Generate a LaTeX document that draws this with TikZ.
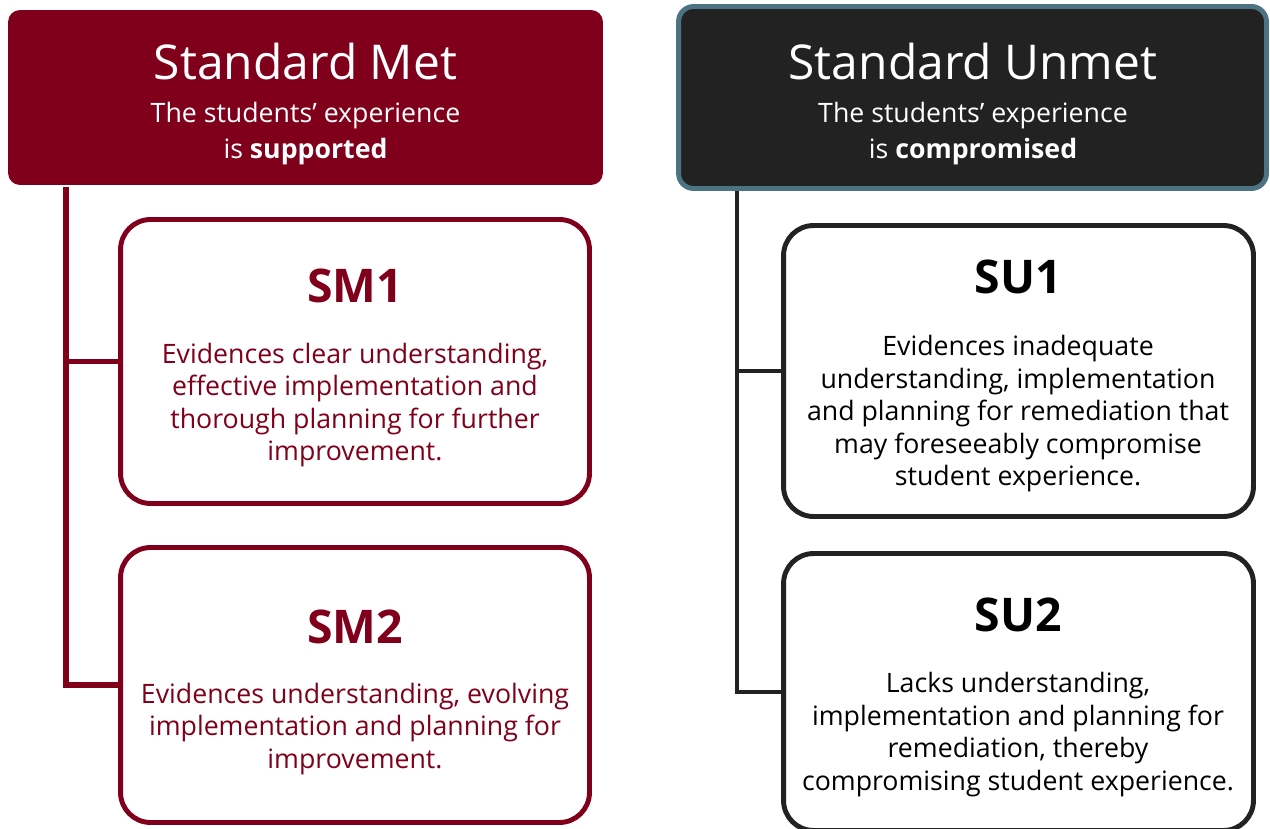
\documentclass[tikz,border=0pt]{standalone}
\usepackage{fontspec}
\setmainfont{Open Sans}
\usetikzlibrary{positioning}
\definecolor{metred}{HTML}{80001B}
\definecolor{unmetdark}{HTML}{222222}
\definecolor{unmetedge}{HTML}{4B7384}
\tikzstyle{headmet} = [rectangle, fill=metred, rounded corners=0.24cm, minimum width=11.9cm, minimum height=3.5cm, inner sep=0pt]
\tikzstyle{headunmet} = [rectangle, fill=unmetdark, draw=unmetedge, line width=2.8pt, rounded corners=0.3cm, minimum width=11.76cm, minimum height=3.64cm, inner sep=0pt]
\tikzstyle{headtitle} = [text=white, anchor=base, inner sep=0pt, font=\fontsize{27.3}{32}\selectfont]
\tikzstyle{headsub} = [text=white, align=center, inner sep=0pt, font=\fontsize{15.2}{20.4}\selectfont]
\tikzstyle{metbox} = [rectangle, draw=metred, line width=2.8pt, rounded corners=0.6cm, minimum width=9.38cm, inner sep=0pt]
\tikzstyle{unmetbox} = [rectangle, draw=unmetdark, line width=2.8pt, rounded corners=0.6cm, minimum width=9.4cm, inner sep=0pt]
\tikzstyle{code} = [anchor=base, inner sep=0pt, font=\fontsize{26.4}{32}\selectfont\bfseries]
\tikzstyle{desc} = [align=center, inner sep=0pt, font=\fontsize{15.2}{18.5}\selectfont]
\tikzstyle{treemet} = [draw=metred, line width=3.4pt]
\tikzstyle{treeunmet} = [draw=unmetdark, line width=2.8pt]

\begin{document}
\begin{tikzpicture}[x=0.02cm, y=-0.02cm]
    \useasboundingbox (0,0) rectangle (1270,828);
    \node [headmet] (met) at (305.5,97.5) {};
    \node [headtitle] (mettitle) at (305.5,80) {Standard Met};
    \node [headsub] (metsub) at (305.5,133.5) {The students’ experience\\is \textbf{supported}};
    \node [headunmet] (unmet) at (972.5,97.5) {};
    \node [headtitle] (unmettitle) at (973,80) {Standard Unmet};
    \node [headsub] (unmetsub) at (973,133.5) {The students’ experience\\is \textbf{compromised}};
    \node [metbox, minimum height=5.68cm] (sm1) at (355,361.5) {};
    \node [metbox, minimum height=5.5cm] (sm2) at (355,685) {};
    \node [unmetbox, minimum height=5.82cm] (su1) at (1018.5,371) {};
    \node [unmetbox, minimum height=5.54cm] (su2) at (1018.5,692) {};
    \node [code, text=metred] (sm1code) at (355,302) {SM1};
    \node [desc, text=metred] (sm1text) at (355,405) {Evidences clear understanding,\\effective implementation and\\thorough planning for further\\improvement.};
    \node [code, text=metred] (sm2code) at (355,643) {SM2};
    \node [desc, text=metred] (sm2text) at (355,729) {Evidences understanding, evolving\\implementation and planning for\\improvement.};
    \node [code, text=black] (su1code) at (1018,293) {SU1};
    \node [desc, text=black] (su1text) at (1018,414) {Evidences inadequate\\understanding, implementation\\and planning for remediation that\\may foreseeably compromise\\student experience.};
    \node [code, text=black] (su2code) at (1018,631) {SU2};
    \node [desc, text=black] (su2text) at (1018,734.5) {Lacks understanding,\\implementation and planning for\\remediation, thereby\\compromising student experience.};
    \coordinate (mettop) at (66,187);
    \coordinate (unmettop) at (737,191);
    \path [treemet] (mettop) |- (sm1.west);
    \path [treemet] (mettop) |- (sm2.west);
    \path [treeunmet] (unmettop) |- (su1.west);
    \path [treeunmet] (unmettop) |- (su2.west);
\end{tikzpicture}
\end{document}
